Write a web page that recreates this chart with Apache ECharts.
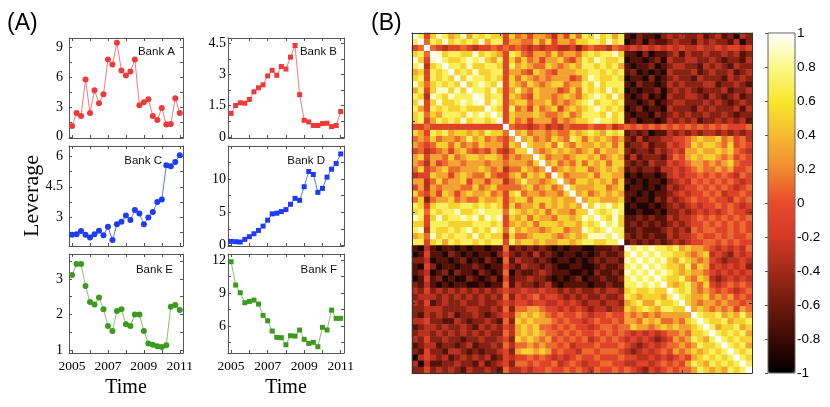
<!DOCTYPE html>
<html><head><meta charset="utf-8">
<script src="https://cdn.jsdelivr.net/npm/echarts@6/dist/echarts.min.js"></script>
<style>html,body{margin:0;padding:0;background:#fff}#c{width:830px;height:407px}</style>
</head><body><div id="c"></div>
<script>
// ---------- data ----------
const years = [2005,2005.25,2005.5,2005.75,2006,2006.25,2006.5,2006.75,2007,2007.25,2007.5,2007.75,2008,2008.25,2008.5,2008.75,2009,2009.25,2009.5,2009.75,2010,2010.25,2010.5,2010.75,2011];
const bankA = [1.1,2.4,2.1,5.8,2.4,4.7,3.4,4.3,7.8,7.3,9.5,6.7,6.2,6.6,7.8,3.2,3.5,3.8,2.1,1.7,2.9,1.25,1.3,3.9,2.4];
const bankB = [1.13,1.51,1.64,1.62,1.8,2.17,2.36,2.5,2.93,3.2,2.96,3.38,3.26,3.83,4.39,2.03,0.8,0.72,0.55,0.55,0.64,0.66,0.5,0.55,1.22];
const bankC = [2.15,2.18,2.33,2.15,2.02,2.18,2.35,2.13,2.54,1.89,2.66,2.79,3.1,2.87,3.36,3.19,2.67,3.0,3.26,3.75,3.88,5.56,5.51,5.72,6.05];
const bankD = [0.6,0.55,0.5,0.9,1.3,1.75,2.25,2.9,3.8,4.75,4.85,5.1,5.4,6.2,7.1,6.8,8.85,11.15,10.7,8.0,8.6,10.3,11.5,12.35,13.8];
const bankE = [3.11,3.42,3.42,2.8,2.35,2.28,2.48,2.15,1.68,1.54,2.1,2.15,1.73,1.68,2.0,2.0,1.54,1.19,1.15,1.11,1.09,1.14,2.22,2.27,2.13];
const bankF = [11.85,9.73,9.03,8.12,8.24,8.36,8.0,6.97,6.48,5.55,4.97,4.94,4.3,5.12,5.09,5.64,4.79,4.42,4.52,4.12,5.88,5.64,7.45,6.7,6.7];

const yearTicks = [2005,2006,2007,2008,2009,2010,2011];
const yearLabels = [2005,2007,2009,2011];
const labelsA = [0,3,6,9],       ticksA = [0,1.5,3,4.5,6,7.5,9];
const labelsB = [0,1.5,3,4.5],   ticksB = [0,0.75,1.5,2.25,3,3.75,4.5];
const labelsC = [3,4.5,6],       ticksC = [2.25,3,3.75,4.5,5.25,6];
const labelsD = [0,5,10],        ticksD = [0,2.5,5,7.5,10,12.5,15];
const labelsE = [1,2,3],         ticksE = [1,1.5,2,2.5,3,3.5];
const labelsF = [6,9,12],        ticksF = [4.5,6,7.5,9,10.5,12];

const bankIds = [1,2,3,4,5,6,7,8,9,10,11,12,13,14,15,16,17,18,19,20,21,22,23,24,25,26,27,28,29,30,31,32,33,34,35,36,37,38,39,40,41,42,43,44,45,46,47,48,49,50,51,52,53,54,55,56];
const heatTicks = [15,30,45];
const colorbarLabels = [-1,-0.8,-0.6,-0.4,-0.2,0,0.2,0.4,0.6,0.8,1];
// correlation matrix, upper triangle from the diagonal (W = 1; digit d = -0.9 + 0.2*d), read by eye
const heatUpper = [
"W847986 7968787 7475646 6536475 8797868 1021102 3232231 2312032",
"W58797 8787968 8466557 5746657 7887978 0120211 2322132 3221302",
"W5434 4543445 4545434 3443342 4544354 3434343 4343343 3434434",
"W978 8779787 6487546 6575665 7878897 1102011 2313223 2232312",
"W87 7898976 8475756 4667546 8798778 0110120 3223322 3212213",
"W8 8797788 7486765 5765676 8878786 1011201 2332213 2321322",
"W 7879778 8466547 6546667 7887878 1201010 3222312 3223123",
"W798878 7475765 6566645 7987787 0110201 2322132 2213232",
"W78987 9476576 5677566 8797888 1021101 3232223 3122321",
"W8879 7468657 6664575 8787978 0101120 2323212 2231223",
"W978 8476547 6656765 7898797 1012010 3223321 3212312",
"W79 8467756 6756567 8978878 1101201 2332223 2321232",
"W8 7485647 5674676 7898787 0120110 3222132 3222313",
"W 8476667 6556756 8887978 1011021 2323223 2232122",
"W475646 6646567 7898878 1201101 3232312 2323231",
"W54434 5343544 4544534 5454545 4545454 5454445",
"W6756 6565576 7876878 1212011 3232323 3232323",
"W675 6576587 5767656 2131223 3445676 6756453",
"W76 6758657 6676757 1223122 4345767 7657454",
"W6 5676765 6757667 2122132 3436676 6767543",
"W 7566567 7675676 1312221 3546767 7656454",
"W675657 5767577 2121322 4345665 6567544",
"W56767 7567676 1212213 3434565 5656445",
"W7566 6757766 0101101 3434454 5454354",
"W657 7676757 1010110 2343545 4545434",
"W76 6677567 0110101 3234454 5454345",
"W6 7567676 1101011 2343445 4534454",
"W 6776667 1011021 3234544 5443545",
"W798978 0100101 2323434 4545434",
"W87898 0010010 2232343 4345443",
"W8797 1121211 3233454 5454545",
"W897 1212121 2323445 4545454",
"W88 1121112 3232545 5445454",
"W8 2121211 3233454 4545445",
"W 1212121 2323445 5454544",
"W898988 7867665 4343435",
"W89898 8776567 3432434",
"W8989 7687656 4323343",
"W898 7768576 3434342",
"W89 8767665 4343434",
"W8 7786576 3234343",
"W 7678657 4345454",
"W878656 5454345",
"W87667 5656454",
"W7656 6565545",
"W676 5656465",
"W87 7867686",
"W8 7786778",
"W 8677867",
"W878786",
"W87877",
"W8786",
"W878",
"W87",
"W8",
"W"
];

// ---------- build ----------
const N = bankIds.length;
const M = [];
for (let i = 0; i < N; i++) M.push(new Array(N).fill(0));
heatUpper.forEach((s, i) => {
  const chars = s.replace(/\s+/g, '');
  for (let k = 0; k < chars.length; k++) {
    const j = i + k;
    const c = chars[k];
    const v = c === 'W' ? 1 : -0.9 + 0.2 * (+c);
    M[i][j] = v; M[j][i] = v;
  }
});
const heatData = [];
for (let i = 0; i < N; i++) for (let j = 0; j < N; j++) heatData.push([j, i, +M[i][j].toFixed(2)]);

const serif = '"Liberation Serif", "DejaVu Serif", serif';
const sans = '"Liberation Sans", Arial, sans-serif';
const edge = '#555';

const panels = [
  {vals: bankA, name: 'Bank A', c: '#f03a3a', lc: '#f47c7c', sym: 'circle', left: 69, top: 38, h: 100, ymin: -0.12, ymax: 9.98, lab: labelsA, tk: ticksA, xl: false, lm: 6, tx: 175, ty: 52},
  {vals: bankB, name: 'Bank B', c: '#f03a3a', lc: '#f47c7c', sym: 'rect', left: 228, top: 38, h: 100, ymin: -0.05, ymax: 4.75, lab: labelsB, tk: ticksB, xl: false, lm: 2, tx: 337, ty: 52},
  {vals: bankC, name: 'Bank C', c: '#1e3cf5', lc: '#5d78f7', sym: 'circle', left: 69, top: 146, h: 100, ymin: 1.6, ymax: 6.5, lab: labelsC, tk: ticksC, xl: false, lm: 6, tx: 162, ty: 161},
  {vals: bankD, name: 'Bank D', c: '#1e3cf5', lc: '#5d78f7', sym: 'rect', left: 228, top: 146, h: 100, ymin: -0.1, ymax: 15, lab: labelsD, tk: ticksD, xl: false, lm: 2, tx: 325, ty: 161},
  {vals: bankE, name: 'Bank E', c: '#3c9a1e', lc: '#86c46e', sym: 'circle', left: 69, top: 254, h: 99, ymin: 0.92, ymax: 3.7, lab: labelsE, tk: ticksE, xl: true, lm: 6, tx: 173, ty: 270},
  {vals: bankF, name: 'Bank F', c: '#3c9a1e', lc: '#86c46e', sym: 'rect', left: 228, top: 254, h: 99, ymin: 3.55, ymax: 12.55, lab: labelsF, tk: ticksF, xl: true, lm: 2, tx: 337, ty: 270}
];

const grid = [], xAxis = [], yAxis = [], series = [], graphic = [];
panels.forEach((p, i) => {
  const w = p.left < 200 ? 114 : 116;
  grid.push({left: p.left, top: p.top, width: w, height: p.h});
  const axLine = {show: true, onZero: false, lineStyle: {color: edge, width: 1}};
  const xbase = {type: 'value', gridIndex: i, min: 2004.83, max: 2011.18, splitLine: {show: false},
    axisLine: axLine, axisTick: {show: true, inside: true, length: 3, customValues: yearTicks, lineStyle: {color: edge}}};
  xAxis.push(Object.assign({}, xbase, {position: 'bottom',
    axisLabel: {show: p.xl, customValues: yearLabels, formatter: (v) => String(Math.round(v)), fontFamily: serif, fontSize: 13.5, color: '#000', margin: 6}}));
  xAxis.push(Object.assign({}, xbase, {position: 'top', axisLabel: {show: false}}));
  const ybase = {type: 'value', gridIndex: i, min: p.ymin, max: p.ymax, splitLine: {show: false},
    axisLine: axLine, axisTick: {show: true, inside: true, length: 3, customValues: p.tk, lineStyle: {color: edge}}};
  yAxis.push(Object.assign({}, ybase, {position: 'left',
    axisLabel: {show: true, customValues: p.lab, fontFamily: serif, fontSize: 14, color: '#000', margin: p.lm}}));
  yAxis.push(Object.assign({}, ybase, {position: 'right', axisLabel: {show: false}}));
  series.push({type: 'line', xAxisIndex: 2 * i, yAxisIndex: 2 * i, silent: true, animation: false,
    data: years.map((t, k) => [t, p.vals[k]]), symbol: p.sym, symbolSize: p.sym === 'rect' ? 5 : 6, showSymbol: true,
    lineStyle: {color: p.lc, width: 1}, itemStyle: {color: p.c}});
  graphic.push({type: 'text', x: p.tx, y: p.ty, style: {text: p.name, font: '11.5px ' + sans, fill: '#111', textAlign: 'right', textVerticalAlign: 'middle'}});
});

// heatmap grid (index 6)
grid.push({left: 412, top: 33, width: 340, height: 340});
const heatTickFn = (idx) => heatTicks.indexOf(idx + 1) >= 0;
const hLine = {show: true, lineStyle: {color: '#333', width: 1}};
const hTick = {show: true, inside: true, length: 3, alignWithLabel: true, interval: heatTickFn, lineStyle: {color: '#333'}};
xAxis.push({type: 'category', gridIndex: 6, data: bankIds, position: 'bottom', axisLine: hLine, axisTick: hTick, axisLabel: {show: false}, splitLine: {show: false}, z: 5});
xAxis.push({type: 'category', gridIndex: 6, data: bankIds, position: 'top', axisLine: hLine, axisTick: hTick, axisLabel: {show: false}, splitLine: {show: false}, z: 5});
yAxis.push({type: 'category', gridIndex: 6, data: bankIds, inverse: true, position: 'left', axisLine: hLine, axisTick: hTick, axisLabel: {show: false}, splitLine: {show: false}, z: 5});
yAxis.push({type: 'category', gridIndex: 6, data: bankIds, inverse: true, position: 'right', axisLine: hLine, axisTick: hTick, axisLabel: {show: false}, splitLine: {show: false}, z: 5});
series.push({type: 'heatmap', xAxisIndex: 12, yAxisIndex: 12, data: heatData, silent: true, animation: false, progressive: 0});

// colorbar axis grid (index 7)
grid.push({left: 768, top: 33, width: 27, height: 340, show: true, borderColor: '#666', borderWidth: 1, backgroundColor: 'transparent', z: 10});
xAxis.push({type: 'value', gridIndex: 7, min: 0, max: 1, show: false});
yAxis.push({type: 'value', gridIndex: 7, min: -1, max: 1, interval: 0.2, position: 'right', z: 10,
  axisLine: {show: false}, splitLine: {show: false},
  axisTick: {show: true, inside: true, length: 3, lineStyle: {color: '#555'}},
  axisLabel: {show: true, customValues: colorbarLabels, fontFamily: sans, fontSize: 13.5, color: '#000', margin: 2}});
series.push({type: 'scatter', xAxisIndex: 14, yAxisIndex: 14, data: [], silent: true});

graphic.push({type: 'text', x: 7, y: 24, style: {text: '(A)', font: '23px ' + sans, fill: '#000', textVerticalAlign: 'middle'}});
graphic.push({type: 'text', x: 371, y: 24, style: {text: '(B)', font: '23px ' + sans, fill: '#000', textVerticalAlign: 'middle'}});
graphic.push({type: 'text', x: 32, y: 196, rotation: Math.PI / 2, style: {text: 'Leverage', font: '22px ' + serif, fill: '#000', textAlign: 'center', textVerticalAlign: 'middle'}});
graphic.push({type: 'text', x: 126, y: 388, style: {text: 'Time', font: '20px ' + serif, fill: '#000', textAlign: 'center', textVerticalAlign: 'middle'}});
graphic.push({type: 'text', x: 286, y: 388, style: {text: 'Time', font: '20px ' + serif, fill: '#000', textAlign: 'center', textVerticalAlign: 'middle'}});

const chart = echarts.init(document.getElementById('c'), null, {renderer: 'canvas'});
chart.setOption({
  animation: false,
  backgroundColor: '#fff',
  grid, xAxis, yAxis, series, graphic,
  visualMap: {type: 'continuous', min: -1, max: 1, seriesIndex: 6, calculable: false, show: true,
    left: 768, top: 33, itemWidth: 27, itemHeight: 340, padding: 0, z: 2,
    inRange: {color: ['#000000', '#3c0a04', '#6e1a0e', '#a02a18', '#d23a26', '#ea4a2c', '#f08a30', '#f4bb30', '#f8e82e', '#fbf88a', '#ffffff']}}
});
</script></body></html>
